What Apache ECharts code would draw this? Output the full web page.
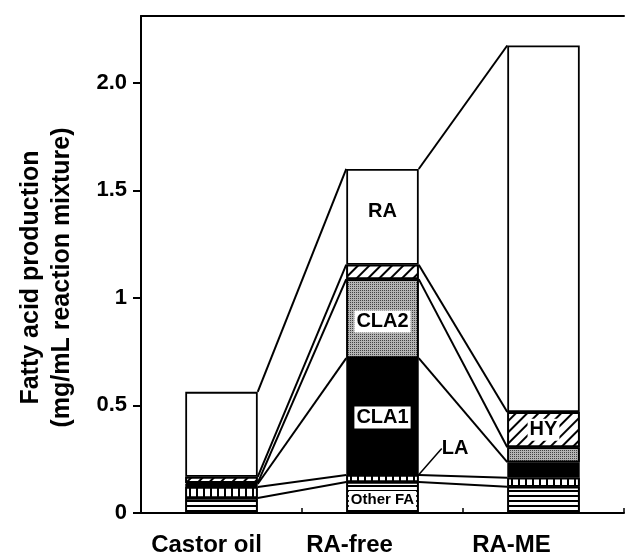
<!DOCTYPE html>
<html><head><meta charset="utf-8">
<script src="https://cdn.jsdelivr.net/npm/echarts@6/dist/echarts.min.js"></script>
<style>html,body{margin:0;padding:0;background:#fff}#c{width:637px;height:559px}</style>
</head><body><div id="c"></div>
<script>
// ---- data (mg/mL reaction mixture), stacked bottom -> top ----
const categories = ['Castor oil', 'RA-free', 'RA-ME'];
const otherFA = [0.070, 0.144, 0.122];
const LA      = [0.051, 0.033, 0.042];
const CLA1    = [0.014, 0.543, 0.072];
const CLA2    = [0.005, 0.367, 0.070];
const HY      = [0.028, 0.067, 0.163];
const RA      = [0.395, 0.445, 1.704];
const segmentNames = ['Other FA', 'LA', 'CLA1', 'CLA2', 'HY', 'RA'];
const yTickValues = [0, 0.5, 1, 1.5, 2];
const yTickLabels = ['0', '0.5', '1', '1.5', '2.0'];
// which bar carries the text label of each segment
const labelledBar = {'Other FA': 1, 'LA': 1, 'CLA1': 1, 'CLA2': 1, 'HY': 2, 'RA': 1};

const FONT = '"Liberation Sans", Arial, Helvetica, sans-serif';
const segData = [otherFA, LA, CLA1, CLA2, HY, RA];
const BAR_FRAC = 0.45;
const HW = BAR_FRAC / 2;

const decals = {
  'Other FA': {symbol: 'rect', symbolSize: 1, dashArrayX: [1, 0], dashArrayY: [2, 3], color: '#000', backgroundColor: '#fff'},
  'LA': {symbol: 'rect', symbolSize: 1, dashArrayX: [2, 5], dashArrayY: [1, 0], color: '#000', backgroundColor: '#fff'},
  'CLA2': {symbol: 'rect', symbolSize: 1, dashArrayX: [1, 1], dashArrayY: [1, 1], color: '#444', backgroundColor: '#b5b5b5'},
  'HY': {symbol: 'rect', symbolSize: 1, dashArrayX: [1, 0], dashArrayY: [2, 6], rotation: -Math.PI / 4, color: '#000', backgroundColor: '#fff'}
};
const fills = {'Other FA': '#fff', 'LA': '#fff', 'CLA1': '#000', 'CLA2': '#9a9a9a', 'HY': '#fff', 'RA': '#fff'};
const labelOffsets = {'RA': [0, -5], 'CLA2': [0, 3], 'CLA1': [0, 1], 'HY': [0, 0], 'Other FA': [0, 2], 'LA': [0, 0]};

// cumulative tops of each segment
const cum = segData.map((_, k) => categories.map((_, i) => {
  let s = 0; for (let j = 0; j <= k; j++) s += segData[j][i]; return s;
}));

const barSeries = segmentNames.map((name, k) => {
  const isLA = name === 'LA';
  return {
    name, type: 'bar', stack: 'fa', barWidth: (BAR_FRAC * 100) + '%',
    xAxisIndex: 0, yAxisIndex: 0,
    itemStyle: Object.assign({color: fills[name], borderColor: '#000', borderWidth: 1.8},
      decals[name] ? {decal: decals[name]} : {}),
    label: {show: false},
    labelLine: isLA ? {show: true, lineStyle: {color: '#000', width: 1.5}} : undefined,
    labelLayout: isLA ? function (p) { return p.dataIndex === labelledBar['LA'] ? {dx: 18, dy: -30} : {}; } : undefined,
    data: segData[k].map((v, i) => i === labelledBar[name] ? {
      value: v,
      label: {
        show: true, formatter: name, position: isLA ? 'right' : 'inside',
        offset: labelOffsets[name],
        color: '#000', fontFamily: FONT, fontWeight: 'bold',
        fontSize: name === 'Other FA' ? 15 : 20,
        backgroundColor: isLA ? 'transparent' : '#fff',
        padding: isLA ? 0 : [2, 2, 0, 2]
      }
    } : v),
    z: 2
  };
});

const linkData = [];
for (let k = 0; k < segmentNames.length; k++) {
  for (let i = 0; i < categories.length - 1; i++) {
    linkData.push({coords: [[i + 0.5 + HW, cum[k][i]], [i + 1.5 - HW, cum[k][i + 1]]]});
  }
}

const option = {
  animation: false,
  backgroundColor: '#fff',
  grid: {left: 141, right: 13, top: 16, bottom: 46, containLabel: false},
  xAxis: [{
    type: 'category', data: categories, position: 'bottom',
    axisLine: {lineStyle: {color: '#000', width: 2}},
    axisTick: {show: true, inside: true, length: 5, lineStyle: {color: '#000', width: 1.5}},
    axisLabel: {
      interval: 0, hideOverlap: false,
      margin: 20, color: '#000', fontFamily: FONT, fontWeight: 'bold', fontSize: 24,
      formatter: (v, i) => '{s' + i + '|' + v + '}',
      rich: {
        s0: {fontFamily: FONT, fontWeight: 'bold', fontSize: 24, color: '#000', padding: [0, 30, 0, 0]},
        s1: {fontFamily: FONT, fontWeight: 'bold', fontSize: 24, color: '#000', padding: [0, 66, 0, 0]},
        s2: {fontFamily: FONT, fontWeight: 'bold', fontSize: 24, color: '#000', padding: [0, 64, 0, 0]}
      }
    },
    splitLine: {show: false}
  }, {
    type: 'value', min: 0, max: categories.length, position: 'top',
    axisLine: {show: true, onZero: false, lineStyle: {color: '#000', width: 2}},
    axisTick: {show: false}, axisLabel: {show: false}, splitLine: {show: false}
  }],
  yAxis: {
    type: 'value', min: 0, max: 2.31, interval: 0.5,
    axisLine: {show: true, lineStyle: {color: '#000', width: 2}},
    axisTick: {show: true, length: 8, lineStyle: {color: '#000', width: 2}, customValues: yTickValues},
    axisLabel: {
      customValues: yTickValues, margin: 14, color: '#000', fontFamily: FONT, fontWeight: 'bold', fontSize: 22,
      formatter: v => { const j = yTickValues.indexOf(v); return j >= 0 ? yTickLabels[j] : ''; }
    },
    splitLine: {show: false},
    name: 'Fatty acid production\n(mg/mL reaction mixture)',
    nameLocation: 'middle', nameGap: 63,
    nameTextStyle: {color: '#000', fontFamily: FONT, fontWeight: 'bold', fontSize: 25, lineHeight: 31, padding: [0, 26, 0, 0]}
  },
  series: barSeries.concat([{
    type: 'lines', coordinateSystem: 'cartesian2d', xAxisIndex: 1, yAxisIndex: 0,
    silent: true, z: 3,
    lineStyle: {color: '#000', width: 2, opacity: 1, curveness: 0},
    data: linkData
  }])
};

const chart = echarts.init(document.getElementById('c'), null, {renderer: 'canvas'});
chart.setOption(option);
</script>
</body></html>
